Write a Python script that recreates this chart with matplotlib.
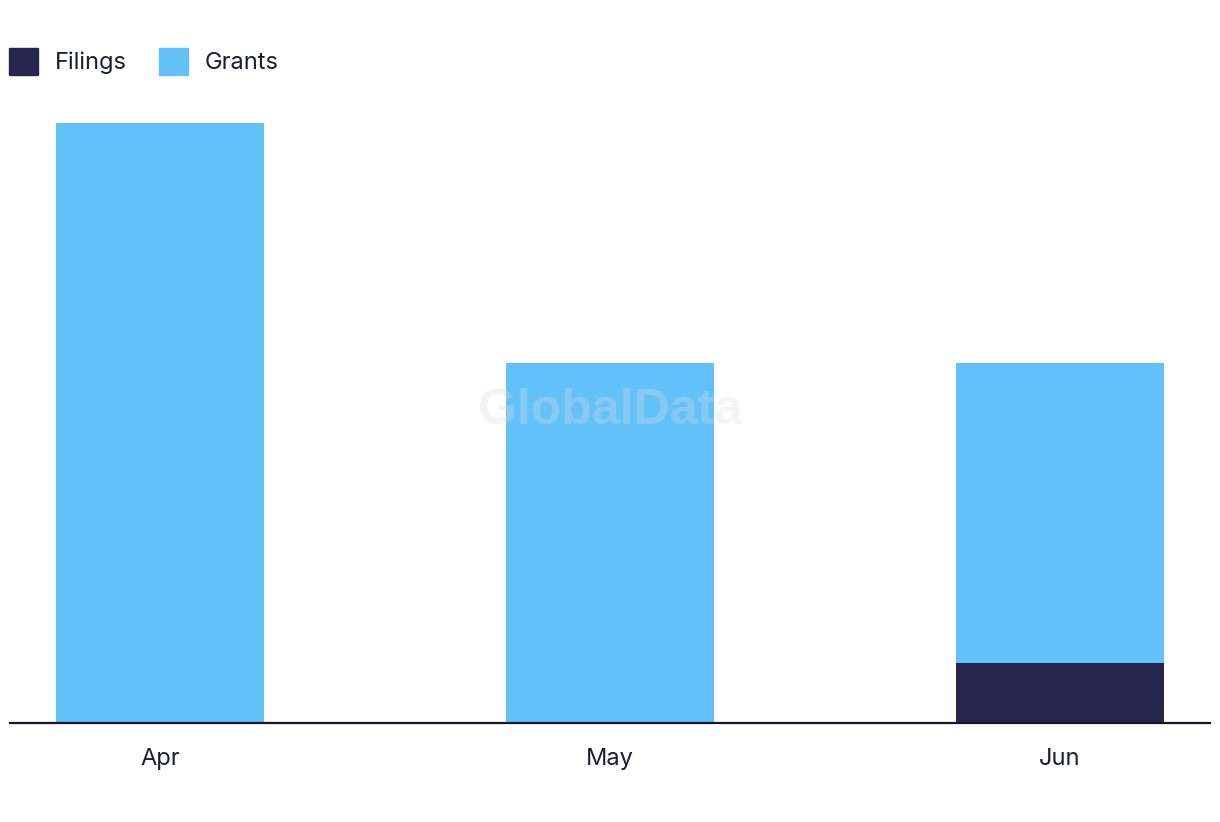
import matplotlib.pyplot as plt
from matplotlib.patches import Patch

months = ["Apr", "May", "Jun"]
filings = [0, 0, 1]
grants = [10, 6, 5]

FILINGS_COLOR = "#26264d"
GRANTS_COLOR = "#63c1f9"
TEXT_COLOR = "#1d1d33"

plt.rcParams["font.family"] = ["Inter", "DejaVu Sans"]

fig = plt.figure(figsize=(12.2, 8.22), dpi=100)
ax = fig.add_axes([10 / 1220, 99 / 822, 1200 / 1220, 624 / 822])

x = list(range(len(months)))
ax.bar(x, filings, width=0.462, color=FILINGS_COLOR, label="Filings")
ax.bar(x, grants, width=0.462, bottom=filings, color=GRANTS_COLOR, label="Grants")

ax.set_xlim(-0.333, 2.333)
ax.set_ylim(0, 10.4)
ax.set_xticks(x)
ax.set_xticklabels(months, fontsize=17, color=TEXT_COLOR)
ax.tick_params(axis="x", length=0, pad=18)
ax.set_yticks([])
for side in ["top", "right", "left"]:
    ax.spines[side].set_visible(False)
ax.spines["bottom"].set_color("#15152a")
ax.spines["bottom"].set_linewidth(1.6)

# watermark
fig.text(0.5, 0.5, "GlobalData", ha="center", va="center", fontsize=36,
         fontweight="bold", family="Liberation Sans", color="#dcdcdc", alpha=0.3)

handles = [Patch(color=FILINGS_COLOR), Patch(color=GRANTS_COLOR)]
fig.legend(handles, ["Filings", "Grants"], loc="upper left",
           bbox_to_anchor=(0.0, 0.953), ncol=2, frameon=False, fontsize=17,
           labelcolor=TEXT_COLOR, handlelength=1.19, handleheight=1.35,
           handletextpad=0.72, columnspacing=1.4, borderaxespad=0.0)

fig.savefig("out.png", dpi=100, facecolor="white")
